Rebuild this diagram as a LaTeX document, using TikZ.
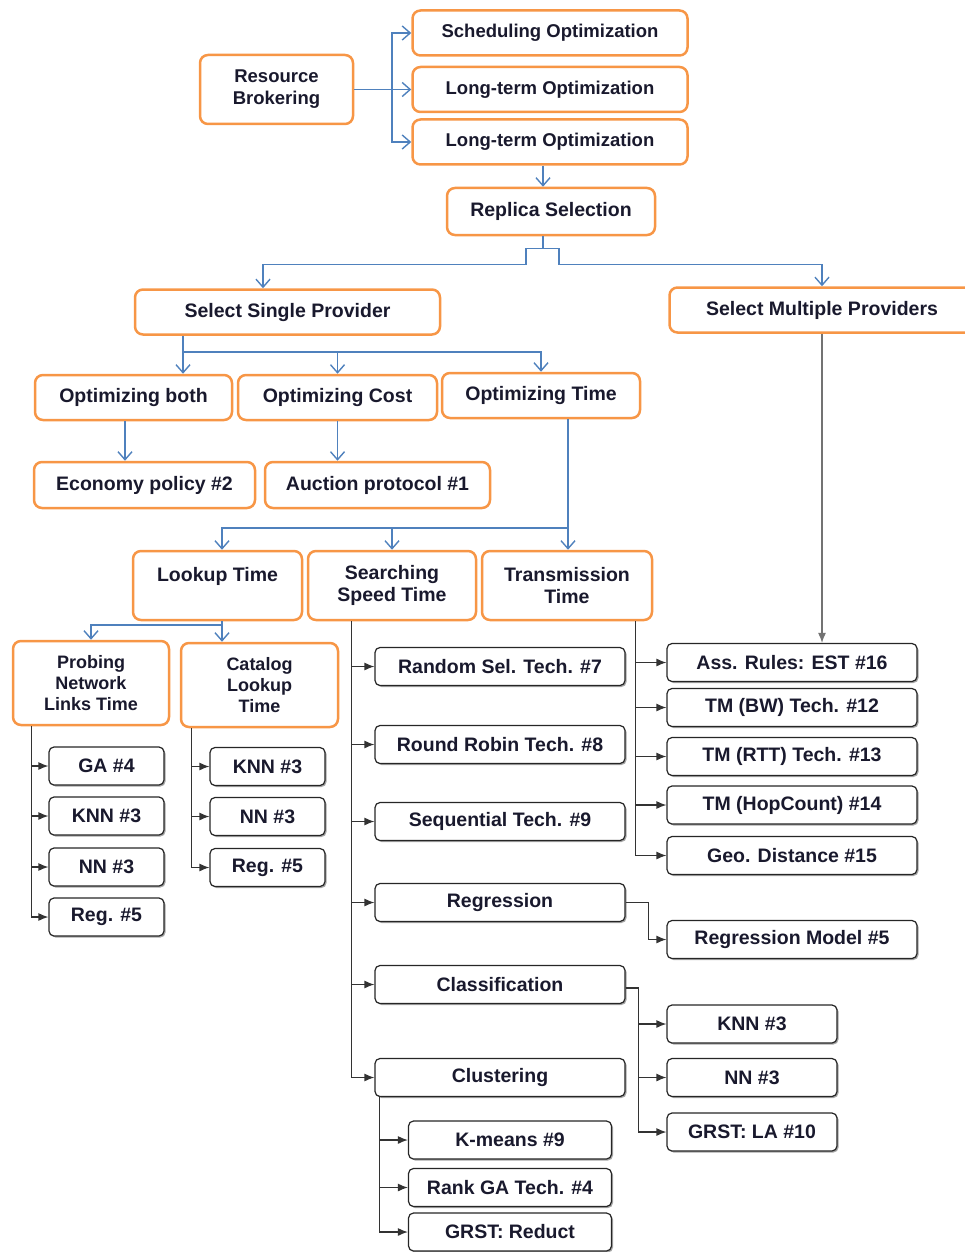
\documentclass[tikz,border=0pt]{standalone}
\usepackage{fontspec}
\setmainfont{Liberation Sans}
\usetikzlibrary{arrows.meta,shadows}
\definecolor{boxorange}{RGB}{247,150,70}
\definecolor{linkblue}{RGB}{79,129,189}
\definecolor{textnavy}{RGB}{25,25,45}
\tikzset{
  basenode/.style = {shape=rectangle, align=center, fill=white,
                     text=textnavy, inner sep=2pt},
  topic/.style    = {basenode, draw=boxorange, line width=2.5pt,
                     rounded corners=8pt,
                     font=\fontsize{19.5}{22}\selectfont\bfseries},
  bigtopic/.style = {topic, font=\fontsize{18.5}{22}\selectfont\bfseries},
  smalltopic/.style = {topic, font=\fontsize{18}{21}\selectfont\bfseries},
  tech/.style     = {basenode, draw=black!85, line width=1.2pt,
                     rounded corners=5pt, minimum height=38pt,
                     drop shadow={shadow xshift=1.5pt, shadow yshift=-1.5pt,
                                  fill=black!35, opacity=1},
                     font=\fontsize{19.5}{22}\selectfont\bfseries},
  link/.style     = {draw=linkblue, line width=1.4pt,
                     -{Straight Barb[length=8pt,width=14pt]}},
  wire/.style     = {draw=black!80, line width=1.2pt,
                     -{Latex[length=10pt,width=8pt]}}
}
\begin{document}
\begin{tikzpicture}[x=1pt,y=-1pt]
  \clip (0,0) rectangle (965,1252);

  \node[bigtopic, minimum width=153pt, minimum height=69pt] (rb) at (276.5,89.5) {Resource\\Brokering};
  \node[bigtopic, minimum width=275pt, minimum height=45pt] (so) at (550,33) {Scheduling Optimization};
  \node[bigtopic, minimum width=275pt, minimum height=45pt] (lo1) at (550,89.5) {Long-term Optimization};
  \node[bigtopic, minimum width=275pt, minimum height=45pt] (lo2) at (550,142) {Long-term Optimization};
  \node[topic, minimum width=208pt, minimum height=47pt] (rs) at (551,211.5) {Replica Selection};
  \node[topic, minimum width=305pt, minimum height=45pt] (ssp) at (287.5,312) {Select Single Provider};
  \node[topic, minimum width=305pt, minimum height=45pt] (smp) at (822,310) {Select Multiple Providers};

  \node[topic, minimum width=197pt, minimum height=45pt] (ob) at (133.5,397.5) {Optimizing both};
  \node[topic, minimum width=199pt, minimum height=45pt] (oc) at (337.5,397.5) {Optimizing Cost};
  \node[topic, minimum width=198pt, minimum height=45pt] (ot) at (541,395.5) {Optimizing Time};
  \node[topic, minimum width=221pt, minimum height=46pt] (ep) at (144.5,485) {Economy policy \#2};
  \node[topic, minimum width=225pt, minimum height=46pt] (ap) at (377.5,485) {Auction protocol \#1};

  \node[topic, minimum width=169pt, minimum height=69pt] (lt) at (217.5,585.5) {Lookup Time\\ \mbox{}};
  \node[topic, minimum width=168pt, minimum height=69pt] (sst) at (392,585.5) {Searching\\Speed Time};
  \node[topic, minimum width=170pt, minimum height=69pt] (tt) at (567,585.5) {Transmission\\Time};
  \node[smalltopic, minimum width=156pt, minimum height=84pt] (pn) at (91,683) {Probing\\Network\\Links Time};
  \node[smalltopic, minimum width=157pt, minimum height=84pt] (cl) at (259.5,685) {Catalog\\Lookup\\Time};

  \node[tech, minimum width=115pt] (p1) at (106.5,766) {GA \#4};
  \node[tech, minimum width=115pt] (p2) at (106.5,816) {KNN \#3};
  \node[tech, minimum width=115pt] (p3) at (106.5,867) {NN \#3};
  \node[tech, minimum width=115pt] (p4) at (106.5,917) {Reg. \#5};
  \node[tech, minimum width=115pt] (c1) at (267.5,766.5) {KNN \#3};
  \node[tech, minimum width=115pt] (c2) at (267.5,816.5) {NN \#3};
  \node[tech, minimum width=115pt] (c3) at (267.5,867.5) {Reg. \#5};

  \node[tech, minimum width=250pt] (s1) at (500,666.5) {Random Sel. Tech. \#7};
  \node[tech, minimum width=250pt] (s2) at (500,744.5) {Round Robin Tech. \#8};
  \node[tech, minimum width=250pt] (s3) at (500,821.5) {Sequential Tech. \#9};
  \node[tech, minimum width=250pt] (s4) at (500,902.5) {Regression};
  \node[tech, minimum width=250pt] (s5) at (500,984.5) {Classification};
  \node[tech, minimum width=250pt] (s6) at (500,1077.5) {Clustering};

  \node[tech, minimum width=250pt] (t1) at (792,662.5) {Ass. Rules: EST \#16};
  \node[tech, minimum width=250pt] (t2) at (792,707.5) {TM (BW) Tech. \#12};
  \node[tech, minimum width=250pt] (t3) at (792,756.5) {TM (RTT) Tech. \#13};
  \node[tech, minimum width=250pt] (t4) at (792,805) {TM (HopCount) \#14};
  \node[tech, minimum width=250pt] (t5) at (792,855.5) {Geo. Distance \#15};
  \node[tech, minimum width=250pt] (rm) at (792,939.5) {Regression Model \#5};

  \node[tech, minimum width=170pt] (k1) at (752,1024) {KNN \#3};
  \node[tech, minimum width=170pt] (k2) at (752,1077.5) {NN \#3};
  \node[tech, minimum width=170pt] (k3) at (752,1132) {GRST: LA \#10};
  \node[tech, minimum width=203pt] (u1) at (510,1140) {K-means \#9};
  \node[tech, minimum width=203pt] (u2) at (510,1187.5) {Rank GA Tech. \#4};
  \node[tech, minimum width=203pt] (u3) at (510,1232) {GRST: Reduct};

  \coordinate (rbj) at (392,89.5);
  \draw[link,-] (rb.east) -- (rbj);
  \foreach \c in {so,lo1,lo2} \draw[link] (rbj) |- (\c.west);
  \draw[link] ([xshift=-7pt]lo2.south) -- ([xshift=-8pt]rs.north);
  \draw[link] ([xshift=-8pt]rs.south) -- ++(0,12) -- ++(-17,0) -- ++(0,16) -| ([xshift=-24.5pt]ssp.north);
  \draw[link] ([xshift=-8pt]rs.south) -- ++(0,12) -- ++(16,0) -- ++(0,16) -| (smp.north);

  \coordinate (sspj) at (183,352);
  \draw[link] ([xshift=-104.5pt]ssp.south) -- (sspj |- ob.north);
  \draw[link] (sspj) -| (oc.north);
  \draw[link] (sspj) -| (ot.north);
  \draw[link] ([xshift=-8.5pt]ob.south) -- ([xshift=-8.5pt]ob.south |- ep.north);
  \draw[link] (oc.south) -- (oc.south |- ap.north);

  \coordinate (otj) at (568,528);
  \draw[link] ([xshift=27pt]ot.south) -- (otj |- tt.north);
  \draw[link] (otj) -| (sst.north);
  \draw[link] (otj) -| ([xshift=4.5pt]lt.north);

  \coordinate (ltj) at (222,625);
  \draw[link] ([xshift=4.5pt]lt.south) -- (ltj |- cl.north);
  \draw[link] (ltj) -| (pn.north);

  \foreach \c in {p1,p2,p3,p4} \draw[wire] ([xshift=20pt]pn.south west) |- (\c.west);
  \foreach \c in {c1,c2,c3} \draw[wire] ([xshift=12pt]cl.south west) |- (\c.west);
  \foreach \c in {s1,s2,s3,s4,s5,s6} \draw[wire] ([xshift=45pt]sst.south west) |- (\c.west);
  \foreach \c in {t1,t2,t3,t4,t5} \draw[wire] ([xshift=155pt]tt.south west) |- (\c.west);
  \draw[wire, draw=black!55] (smp.south) -- (smp.south |- t1.north);
  \draw[wire] (s4.east) -- ++(23,0) |- (rm.west);
  \foreach \c in {k1,k2,k3} \draw[wire] ([yshift=-3.5pt]s5.east) -- ++(13,0) |- (\c.west);
  \foreach \c in {u1,u2,u3} \draw[wire] ([xshift=5pt]s6.south west) |- (\c.west);
\end{tikzpicture}
\end{document}
